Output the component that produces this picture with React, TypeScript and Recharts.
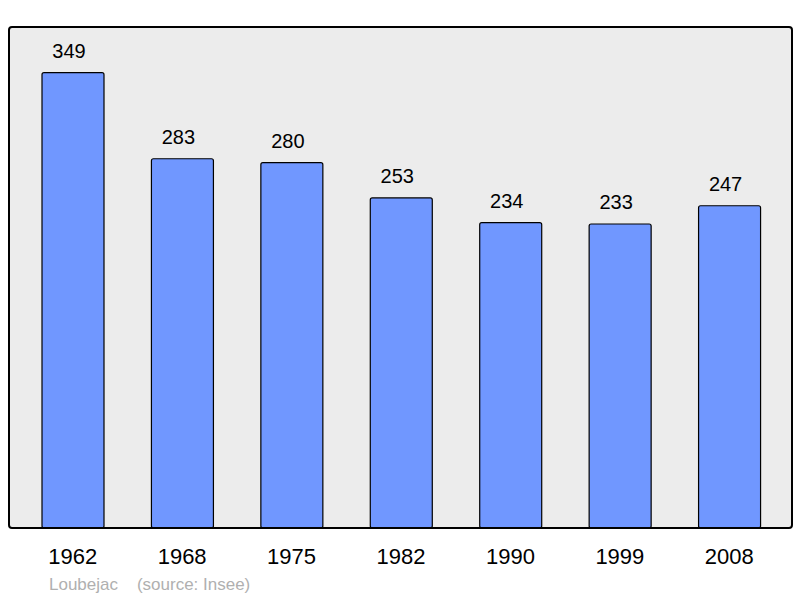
import { BarChart, Bar, XAxis, YAxis, CartesianGrid, LabelList } from 'recharts'

const years = ['1962', '1968', '1975', '1982', '1990', '1999', '2008']
const population = [349, 283, 280, 253, 234, 233, 247]

const data = years.map((year, i) => ({ year, population: population[i] }))

const font = '"Liberation Sans", Arial, sans-serif'

export default function App() {
  return (
    <div style={{ position: 'absolute', left: 0, top: 0, width: 800, height: 598, background: '#fff' }}>
      <BarChart
        width={800}
        height={598}
        data={data}
        margin={{ top: 27, right: 8, bottom: 20, left: 9 }}
        barSize={62}
      >
        <CartesianGrid fill="#ececec" horizontal={false} vertical={false} />
        <XAxis
          dataKey="year"
          height={50}
          padding={{ left: 9, right: 8 }}
          axisLine={false}
          tickLine={false}
          tickSize={0}
          tickMargin={20}
          tick={{ fill: '#000', fontSize: 22, fontFamily: font }}
        />
        <YAxis domain={[0, 384]} hide />
        <Bar dataKey="population" fill="#7097ff" stroke="#000" strokeWidth={1.2} radius={2} isAnimationActive={false}>
          <LabelList dataKey="population" position="top" offset={15} dx={-4} fill="#000" fontSize={20} fontFamily={font} />
        </Bar>
      </BarChart>
      {/* frame round the plot area */}
      <div style={{ position: 'absolute', left: 8, top: 26, width: 785, height: 503, boxSizing: 'border-box',
        border: '2px solid #000', borderRadius: 4, pointerEvents: 'none' }} />
      <div style={{ position: 'absolute', left: 49, top: 575, fontFamily: font, fontSize: 17, color: '#b0b0b0', whiteSpace: 'pre' }}>
        {'Loubejac    (source: Insee)'}
      </div>
    </div>
  )
}
